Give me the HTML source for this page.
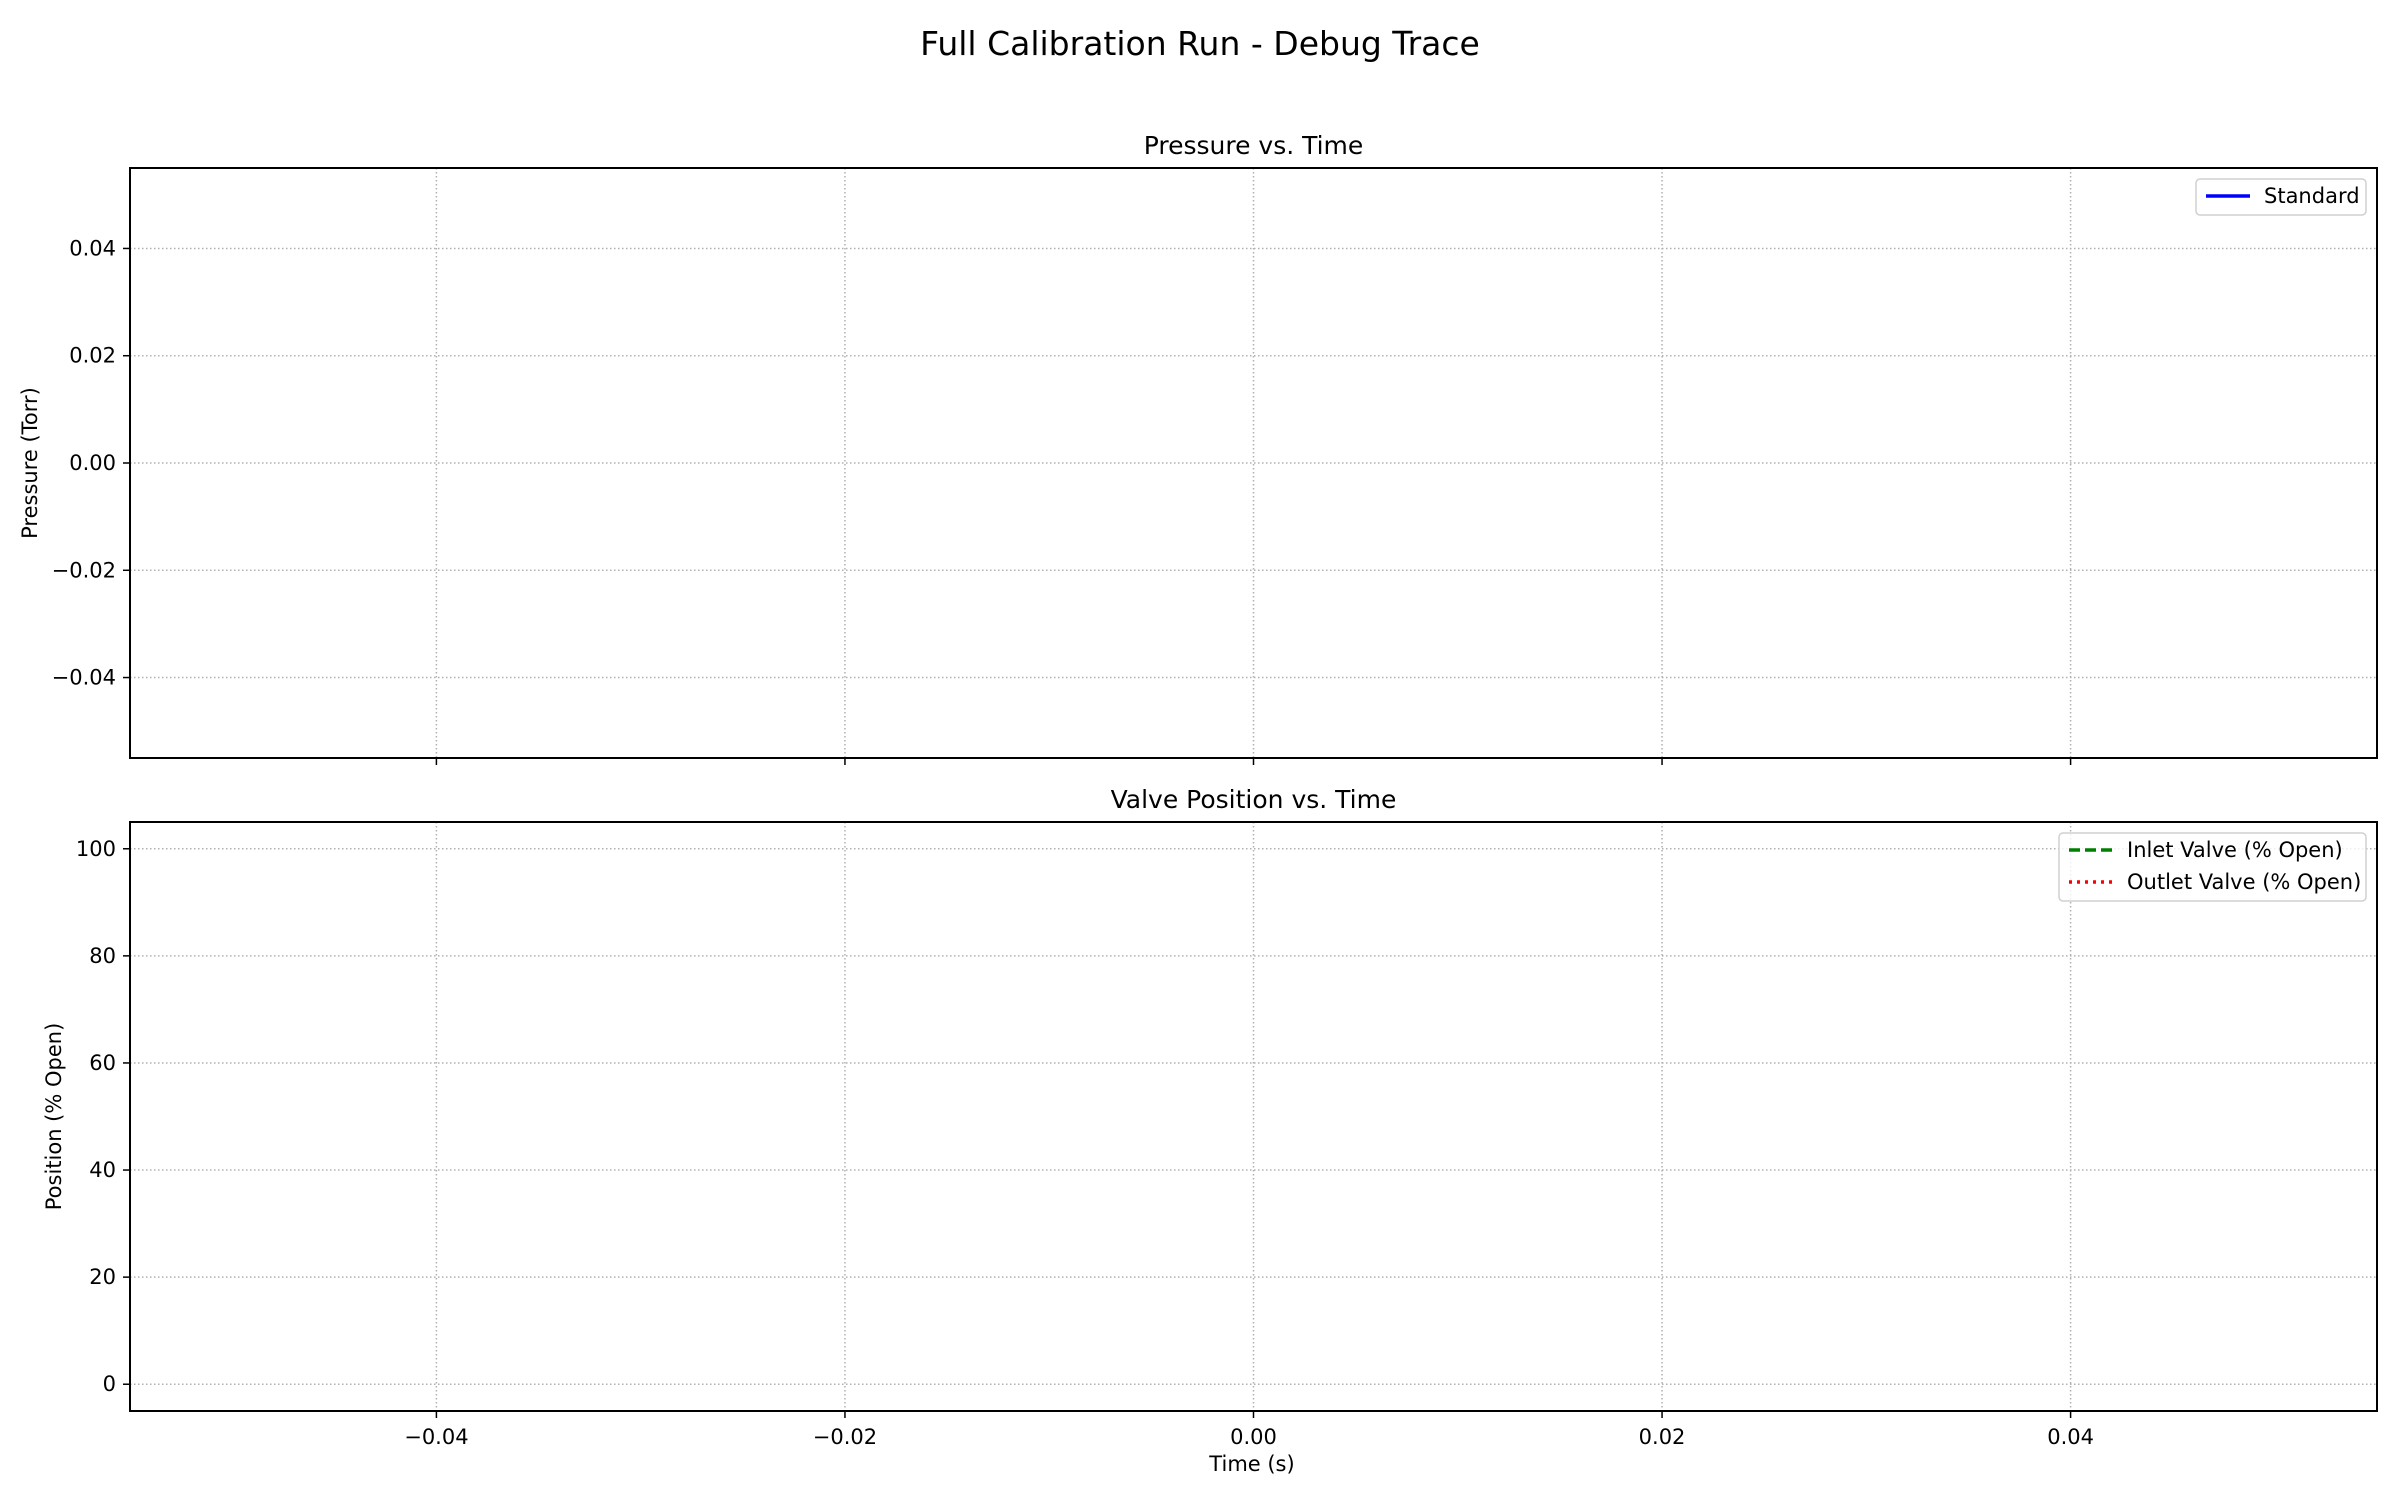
<!DOCTYPE html>
<html><head><meta charset="utf-8"><style>
body{margin:0;background:#fff}
svg{display:block;font-family:"DejaVu Sans","Liberation Sans",sans-serif}
</style></head><body>
<svg id="fig" width="2400" height="1500" viewBox="0 0 2400 1500">
<rect width="2400" height="1500" fill="#fff"/>
<text x="1200" y="55" font-size="33" text-anchor="middle">Full Calibration Run - Debug Trace</text>
<g id="ax1"></g>
<g id="ax2"></g>
</svg>
<script>
const xTicks = [-0.04, -0.02, 0.00, 0.02, 0.04];
const xTickLabels = ["\u22120.04", "\u22120.02", "0.00", "0.02", "0.04"];
const pTicks = [-0.04, -0.02, 0.00, 0.02, 0.04];
const pTickLabels = ["\u22120.04", "\u22120.02", "0.00", "0.02", "0.04"];
const vTicks = [0, 20, 40, 60, 80, 100];
const vTickLabels = ["0", "20", "40", "60", "80", "100"];
const timeValues = [];
const pressureValues = [];
const inletValues = [];
const outletValues = [];
const xDomain = [-0.055, 0.055];
const pDomain = [-0.055, 0.055];
const vDomain = [-5, 105];

const NS = "http://www.w3.org/2000/svg";
function mk(tag, attrs, parent){const e=document.createElementNS(NS,tag);for(const k in attrs)e.setAttribute(k,attrs[k]);parent.appendChild(e);return e;}
const L=130,R=2377;
const xs=v=>L+(v-xDomain[0])/(xDomain[1]-xDomain[0])*(R-L);

function axes(g, top, bot, dom, ticks, labels, title, ylab, ylabX, showX, series, legend){
  const ys=v=>bot-(v-dom[0])/(dom[1]-dom[0])*(bot-top);
  xTicks.forEach((t,i)=>{
    const l=mk('line',{x1:xs(t),x2:xs(t),y1:top,y2:bot,stroke:'#b0b0b0','stroke-width':1.5,'stroke-dasharray':'1.5,2.5'},g);
    
    
    const tk=mk('line',{x1:xs(t),x2:xs(t),y1:bot,y2:bot+7,stroke:'#000','stroke-width':1.5},g);
    
    
    if(showX){
      const tx=mk('text',{x:xs(t),y:bot+33,'font-size':21,'text-anchor':'middle'},g);
      tx.textContent=xTickLabels[i];
      
      
    }
  });
  ticks.forEach((t,i)=>{
    const l=mk('line',{x1:L,x2:R,y1:ys(t),y2:ys(t),stroke:'#b0b0b0','stroke-width':1.5,'stroke-dasharray':'1.5,2.5'},g);
    
    
    const tk=mk('line',{x1:L-7,x2:L,y1:ys(t),y2:ys(t),stroke:'#000','stroke-width':1.5},g);
    
    
    const tx=mk('text',{x:L-14,y:ys(t)+7,'font-size':21,'text-anchor':'end'},g);
    tx.textContent=labels[i];
    
    
  });
  series.forEach(s=>{
    const pts=timeValues.map((t,i)=>xs(t)+','+ys(s.vals[i])).join(' ');
    const p=mk('polyline',{points:pts,fill:'none',stroke:s.color,'stroke-width':3,'stroke-dasharray':s.dash},g);
    
    
  });
  const fr=mk('rect',{x:L,y:top,width:R-L,height:bot-top,fill:'none',stroke:'#000','stroke-width':2},g);
  
  
  const tt=mk('text',{x:(L+R)/2,y:top-14,'font-size':25,'text-anchor':'middle'},g);
  tt.textContent=title;
  
  
  const yl=mk('text',{x:ylabX,y:(top+bot)/2,'font-size':21,'text-anchor':'middle',transform:`rotate(-90 ${ylabX} ${(top+bot)/2})`},g);
  yl.textContent=ylab;
  
  
  const lg=mk('g',{},g);
  
  
  mk('rect',{x:legend.x,y:top+11,width:R-11-legend.x,height:legend.items.length*32+4,rx:4,fill:'#fff','fill-opacity':0.8,stroke:'#d0d0d0','stroke-width':1.5},lg);
  legend.items.forEach((it,i)=>{
    const cy=top+28+i*32;
    const ln=mk('line',{x1:legend.x+10,x2:legend.x+54,y1:cy,y2:cy,stroke:it.color,'stroke-width':3.5,'stroke-dasharray':it.dash},lg);
    
    
    const tx=mk('text',{x:legend.x+68,y:cy+7,'font-size':21},lg);
    tx.textContent=it.label;
    
    
  });
}
axes(document.getElementById('ax1'),168,758,pDomain,pTicks,pTickLabels,'Pressure vs. Time','Pressure (Torr)',37,false,
  [{vals:pressureValues,color:'#0000ff',dash:'none',name:'pressure-line'}],
  {x:2196,items:[{label:'Standard',color:'#0000ff',dash:'none'}]});
axes(document.getElementById('ax2'),822,1411,vDomain,vTicks,vTickLabels,'Valve Position vs. Time','Position (% Open)',61,true,
  [{vals:inletValues,color:'#008000',dash:'11,5',name:'inlet-line'},{vals:outletValues,color:'#ff0000',dash:'3,5',name:'outlet-line'}],
  {x:2059,items:[{label:'Inlet Valve (% Open)',color:'#008000',dash:'11,5'},{label:'Outlet Valve (% Open)',color:'#ff0000',dash:'3,5'}]});
const xl=mk('text',{x:1252,y:1471,'font-size':21,'text-anchor':'middle'},document.getElementById('fig'));
xl.textContent='Time (s)';


</script>
</body></html>
